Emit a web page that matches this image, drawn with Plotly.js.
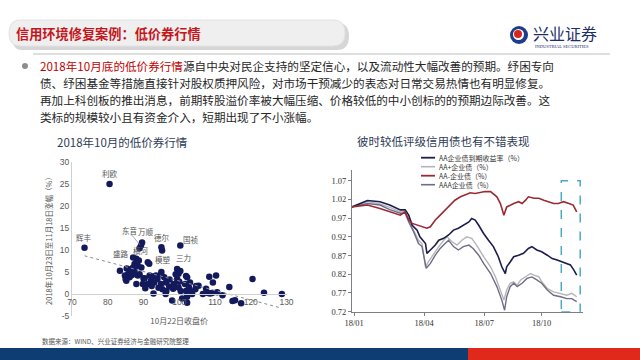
<!DOCTYPE html>
<html><head><meta charset="utf-8">
<script src="https://cdn.plot.ly/plotly-3.0.1.min.js"></script>
<style>html,body{margin:0;padding:0;background:#fff;overflow:hidden}#chart{width:640px;height:360px;}</style>
</head><body><div id="chart"></div>
<script>
// ---------------- DATA ----------------
// Left chart: 10月22日收盘价 vs 2018年10月23日至11月18日涨幅（%）
const closePrice = [80.5,73.5,89.6,89.3,88.9,95.0,95.2,100.3,
 120.5,123.7,128.7,112.1,114.0,114.9,115.6,117.3,
 110.3,108.4,109.4,109.2,108.0,106.6,107.5,104.7,103.0,102.2,102.2,100.8,98.0,101.9,
 83.4,84.8,85.0,85.2,86.1,85.7,86.1,85.3,87.1,88.0,88.7,87.5,88.4,89.4,87.1,86.6,91.2,91.6,88.9,87.5,88.0,89.8,88.4,90.3,91.7,92.1,91.2,92.8,93.5,93.9,93.0,94.9,94.9,95.8,96.3,95.3,96.4,97.2,98.5,99.0,99.4,99.8,99.4,100.4,101.6,101.9,102.7,102.2,103.6,104.5,105.4,110.6,108.6,
 90.5,92.3,95.0,94.2,96.2,97.3,98.3,100.0,99.8,103.2,100.3,90.0,86.8,92.5];
const priceGain = [25.0,10.5,11.7,11.0,10.4,10.6,9.9,11.0,
 3.4,0.3,0.0,-0.3,1.6,-1.6,-1.4,-2.1,
 4.2,3.9,2.6,0.2,0.2,0.0,1.2,1.8,2.6,-0.6,-2.0,-1.0,-1.5,4.1,
 5.3,4.2,3.4,3.0,3.8,4.5,4.9,5.8,8.3,8.0,7.6,6.8,6.4,6.0,6.0,5.7,7.2,6.9,4.5,5.3,2.3,2.3,4.2,3.6,4.2,3.0,2.3,0.1,4.2,3.4,2.6,4.5,2.3,3.8,2.6,1.1,0.7,1.7,2.3,4.5,5.7,4.6,3.4,0.7,2.3,0.7,1.5,3.8,0.0,1.1,1.9,0.4,0.1,
 1.3,1.8,5.0,1.4,0.0,3.3,1.2,2.8,1.5,0.6,5.2,3.5,4.3,4.0];
const bondNames = ['利欧','辉丰','东音','万顺','德尔','国祯','盛路','横河','模塑','三力'];
const scatterXTicks = [70,80,90,100,110,120,130];
const scatterYTicks = [-5,0,5,10,15,20,25,30];

// Right chart: normalised indices
const seriesNames = ['AA企业债到期收益率（%）','AA+企业债（%）','AA-企业债（%）','AAA企业债（%）'];
const datesAA = ['2018-01-02','2018-01-24','2018-02-11','2018-02-25','2018-03-12','2018-03-19','2018-03-24','2018-03-29','2018-04-05','2018-04-09','2018-04-17','2018-04-19','2018-04-24','2018-05-01','2018-05-06','2018-05-13','2018-05-20','2018-05-27','2018-06-03','2018-06-10','2018-06-18','2018-06-22','2018-06-27','2018-07-02','2018-07-09','2018-07-16','2018-07-23','2018-07-30','2018-08-04','2018-08-09','2018-08-11','2018-08-16','2018-08-21','2018-08-28','2018-09-04','2018-09-11','2018-09-16','2018-09-23','2018-09-30','2018-10-08','2018-10-15','2018-10-22','2018-10-29','2018-11-05','2018-11-10','2018-11-15','2018-11-19'];
const valuesAA = [1.000,1.017,1.014,1.005,0.992,0.992,0.978,0.951,0.938,0.920,0.902,0.876,0.885,0.898,0.911,0.916,0.925,0.938,0.943,0.951,0.960,0.969,0.965,0.951,0.929,0.911,0.894,0.867,0.840,0.822,0.840,0.853,0.867,0.871,0.876,0.889,0.894,0.885,0.880,0.871,0.862,0.858,0.853,0.849,0.845,0.831,0.818];
const datesAAplus = ['2018-01-02','2018-01-24','2018-02-11','2018-02-25','2018-03-12','2018-03-19','2018-03-24','2018-03-31','2018-04-07','2018-04-12','2018-04-17','2018-04-21','2018-04-29','2018-05-06','2018-05-13','2018-05-18','2018-05-25','2018-06-01','2018-06-08','2018-06-15','2018-06-22','2018-06-29','2018-07-09','2018-07-19','2018-07-26','2018-08-02','2018-08-07','2018-08-11','2018-08-16','2018-08-21','2018-08-26','2018-08-31','2018-09-07','2018-09-14','2018-09-19','2018-09-26','2018-09-30','2018-10-08','2018-10-17','2018-10-27','2018-11-05','2018-11-12','2018-11-19'];
const valuesAAplus = [1.000,1.014,1.008,0.999,0.987,0.987,0.965,0.938,0.911,0.902,0.840,0.853,0.876,0.894,0.911,0.920,0.907,0.898,0.911,0.920,0.916,0.898,0.867,0.840,0.813,0.778,0.751,0.778,0.796,0.800,0.791,0.805,0.813,0.822,0.818,0.813,0.800,0.782,0.773,0.769,0.764,0.769,0.760];
const datesAAminus = ['2018-01-02','2018-01-24','2018-02-11','2018-02-25','2018-03-12','2018-03-19','2018-03-24','2018-03-29','2018-04-05','2018-04-12','2018-04-19','2018-04-24','2018-05-01','2018-05-08','2018-05-15','2018-05-22','2018-05-29','2018-06-06','2018-06-13','2018-06-20','2018-06-27','2018-07-04','2018-07-11','2018-07-19','2018-07-23','2018-07-28','2018-08-02','2018-08-07','2018-08-11','2018-08-16','2018-08-21','2018-08-28','2018-09-02','2018-09-07','2018-09-11','2018-09-19','2018-09-26','2018-10-03','2018-10-10','2018-10-17','2018-10-24','2018-10-31','2018-11-08','2018-11-14','2018-11-19'];
const valuesAAminus = [1.000,1.005,0.996,0.987,0.978,0.987,0.965,0.956,0.951,0.947,0.943,0.947,0.965,0.978,0.992,1.005,1.018,1.027,1.033,1.038,1.036,1.038,1.041,1.041,1.034,1.027,1.009,0.978,1.000,1.005,1.009,1.014,1.009,1.018,1.027,1.023,1.023,1.018,1.014,1.009,1.009,1.014,1.009,1.005,0.987];
const datesAAA = ['2018-01-02','2018-01-24','2018-02-11','2018-02-25','2018-03-12','2018-03-19','2018-03-24','2018-03-31','2018-04-07','2018-04-12','2018-04-18','2018-04-24','2018-05-01','2018-05-08','2018-05-15','2018-05-20','2018-05-27','2018-06-03','2018-06-10','2018-06-18','2018-06-24','2018-07-02','2018-07-09','2018-07-19','2018-07-28','2018-08-04','2018-08-08','2018-08-11','2018-08-16','2018-08-21','2018-08-26','2018-09-02','2018-09-09','2018-09-16','2018-09-23','2018-09-30','2018-10-08','2018-10-17','2018-10-27','2018-11-05','2018-11-12','2018-11-19'];
const valuesAAA = [1.000,1.009,1.005,0.993,0.983,0.983,0.960,0.934,0.902,0.894,0.836,0.849,0.871,0.889,0.902,0.911,0.894,0.885,0.894,0.898,0.889,0.871,0.849,0.822,0.787,0.751,0.724,0.760,0.787,0.796,0.787,0.796,0.809,0.813,0.805,0.796,0.778,0.764,0.760,0.755,0.755,0.747];
const lineYTicks = [0.72,0.77,0.82,0.87,0.92,0.97,1.02,1.07];
const lineXTickDates = ['2018-01-05','2018-04-15','2018-07-10','2018-09-30'];
const lineXTickText = ['18/01','18/04','18/07','18/10'];

// ---------------- HELPERS ----------------
const W = 640, H = 360;
const px = x => x / W;
const py = y => 1 - y / H;

// Linear trendline computed from the scatter data
const n = closePrice.length;
const mx = closePrice.reduce((a,b)=>a+b,0)/n, my = priceGain.reduce((a,b)=>a+b,0)/n;
let sxy=0, sxx=0;
for (let i=0;i<n;i++){ sxy += (closePrice[i]-mx)*(priceGain[i]-my); sxx += (closePrice[i]-mx)**2; }
const slope = sxy/sxx, intercept = my - slope*mx;
const xmin = Math.min(...closePrice), xmax = Math.max(...closePrice);

const CJK = '"Noto Sans CJK SC", sans-serif';
const SERIF = '"Liberation Serif", "DejaVu Serif", serif';
const SANS = '"Liberation Sans", Arial, sans-serif';

const sxDom = [px(72), px(286.5)];
const syDom = [py(316), py(162)];
const syRange = [-5, 30];
const xAxisPos = syDom[0] + (0 - syRange[0]) / (syRange[1] - syRange[0]) * (syDom[1] - syDom[0]);

const traces = [
  {type:'scatter', mode:'markers', x: closePrice, y: priceGain, xaxis:'x', yaxis:'y',
   marker:{color:'#131a5c', size:6.5}, showlegend:false, hoverinfo:'x+y'},
  {type:'scatter', mode:'lines', x:[xmin, xmax], y:[intercept+slope*xmin, intercept+slope*xmax],
   xaxis:'x', yaxis:'y', line:{color:'#8a8a9a', width:1, dash:'dot'}, showlegend:false, hoverinfo:'skip'},
];
const lineColors = ['#1b1d4d','#b5b5b8','#9a2b33','#6e6c88'];
const lineWidths = [1.6,1.4,1.6,1.4];
const lineDates = [datesAA, datesAAplus, datesAAminus, datesAAA];
const lineVals = [valuesAA, valuesAAplus, valuesAAminus, valuesAAA];
[1,3,0,2].forEach(i => traces.push({type:'scatter', mode:'lines', name: seriesNames[i],
  x: lineDates[i], y: lineVals[i], xaxis:'x2', yaxis:'y2',
  line:{color: lineColors[i], width: lineWidths[i]}, showlegend:false}));

const shapes = [];
const annotations = [];

// Title bar
shapes.push({type:'path', xref:'paper', yref:'paper', layer:'below',
  path:`M ${px(22)} ${py(23)} L ${px(337)} ${py(23)} Q ${px(349)} ${py(23)} ${px(349)} ${py(36)} Q ${px(349)} ${py(50)} ${px(337)} ${py(50)} L ${px(22)} ${py(50)} Q ${px(12)} ${py(50)} ${px(12)} ${py(36)} Q ${px(12)} ${py(23)} ${px(22)} ${py(23)} Z`,
  fillcolor:'#d6d6d6', line:{width:0}});
shapes.push({type:'path', xref:'paper', yref:'paper', layer:'below',
  path:`M ${px(20)} ${py(20)} L ${px(333)} ${py(20)} Q ${px(345)} ${py(20)} ${px(345)} ${py(33)} Q ${px(345)} ${py(46)} ${px(333)} ${py(46)} L ${px(20)} ${py(46)} Q ${px(9)} ${py(46)} ${px(9)} ${py(33)} Q ${px(9)} ${py(20)} ${px(20)} ${py(20)} Z`,
  fillcolor:'#efefef', line:{color:'#e2e2e2', width:1}});
annotations.push({xref:'paper', yref:'paper', x:px(14), y:py(33), xanchor:'left', yanchor:'middle', showarrow:false,
  text:'<b>信用环境修复案例：低价券行情</b>', font:{family:CJK, size:13.2, color:'#c4161c'}});

// Logo
shapes.push({type:'circle', xref:'paper', yref:'paper', x0:px(510), x1:px(528), y0:py(44), y1:py(26), fillcolor:'#1d3c8c', line:{width:0}});
shapes.push({type:'circle', xref:'paper', yref:'paper', x0:px(513), x1:px(524), y0:py(40), y1:py(29), fillcolor:'#ffffff', line:{width:0}});
shapes.push({type:'circle', xref:'paper', yref:'paper', x0:px(514), x1:px(522), y0:py(38), y1:py(30), fillcolor:'#d9261c', line:{width:0}});
annotations.push({xref:'paper', yref:'paper', x:px(531), y:py(33), xanchor:'left', yanchor:'middle', showarrow:false,
  text:'兴业证券', font:{family:CJK, size:16, color:'#1b2d6b'}});
annotations.push({xref:'paper', yref:'paper', x:px(533), y:py(46), xanchor:'left', yanchor:'middle', showarrow:false,
  text:'INDUSTRIAL SECURITIES', font:{family:SERIF, size:4.5, color:'#1b2d6b'}});

// Separator line
shapes.push({type:'line', xref:'paper', yref:'paper', x0:px(33), x1:px(610), y0:py(54), y1:py(54), line:{color:'#bfbfbf', width:1}});

// Bullet + body text
shapes.push({type:'circle', xref:'paper', yref:'paper', x0:px(22), x1:px(28), y0:py(69), y1:py(63), fillcolor:'#8c8c8c', line:{width:0}});
const bodyLines = [
  '<span style="color:#c00000">2018年10月底的低价券行情</span>源自中央对民企支持的坚定信心，以及流动性大幅改善的预期。纾困专向',
  '债、纾困基金等措施直接针对股权质押风险，对市场干预减少的表态对日常交易热情也有明显修复。',
  '再加上科创板的推出消息，前期转股溢价率被大幅压缩、价格较低的中小创标的的预期边际改善。这',
  '类标的规模较小且有资金介入，短期出现了不小涨幅。'
];
const bodyY = [66, 83, 100, 117];
bodyLines.forEach((t,i) => annotations.push({xref:'paper', yref:'paper', x:px(38), y:py(bodyY[i]), xanchor:'left', yanchor:'middle',
  showarrow:false, text:t, font:{family:CJK, size:11.6, color:'#262626'}}));

// Chart titles
annotations.push({xref:'paper', yref:'paper', x:px(55), y:py(142), xanchor:'left', yanchor:'middle', showarrow:false,
  text:'2018年10月的低价券行情', font:{family:CJK, size:11.5, color:'#2e3b55'}});
annotations.push({xref:'paper', yref:'paper', x:px(355), y:py(141), xanchor:'left', yanchor:'middle', showarrow:false,
  text:'彼时较低评级信用债也有不错表现', font:{family:CJK, size:11.5, color:'#2e3b55'}});

// Scatter point labels
const labelPos = [[80.5,27.4],[73.3,12.9],[86.3,14.4],[90.6,14.3],[95.2,12.8],[103.3,12.4],[83.6,9.1],[89.4,9.8],[95.4,7.9],[101.3,8.3]];
bondNames.forEach((nm,i) => annotations.push({xref:'x', yref:'y', x:labelPos[i][0], y:labelPos[i][1], showarrow:false,
  text:nm, font:{family:CJK, size:7.5, color:'#555555'}}));
shapes.push({type:'line', xref:'x', yref:'y', x0:86.6, y0:13.5, x1:89.0, y1:11.2, line:{color:'#999999', width:0.8}});

// Right chart legend
const legRowY = [157.7, 166.7, 175.7, 184.7];
seriesNames.forEach((nm,i) => {
  shapes.push({type:'line', xref:'paper', yref:'paper', x0:px(421), x1:px(435), y0:py(legRowY[i]), y1:py(legRowY[i]),
    line:{color: lineColors[i], width: lineWidths[i]+0.2}});
  annotations.push({xref:'paper', yref:'paper', x:px(437), y:py(legRowY[i]), xanchor:'left', yanchor:'middle', showarrow:false,
    text:nm, font:{family:CJK, size:7, color:'#333333'}});
});

// Highlight box
shapes.push({type:'rect', xref:'x2', yref:'y2', x0:'2018-10-28', x1:'2018-11-24', y0:0.72, y1:1.07,
  line:{color:'#4aaac8', width:1.5, dash:'dash'}, fillcolor:'rgba(0,0,0,0)'});

// Source & footer
annotations.push({xref:'paper', yref:'paper', x:px(40), y:py(341), xanchor:'left', yanchor:'middle', showarrow:false,
  text:'数据来源：WIND、兴业证券经济与金融研究院整理', font:{family:CJK, size:6.5, color:'#555555'}});
shapes.push({type:'rect', xref:'paper', yref:'paper', x0:0, x1:px(468), y0:0, y1:py(348), fillcolor:'#0d3d72', line:{width:0}});
shapes.push({type:'rect', xref:'paper', yref:'paper', x0:px(468), x1:1, y0:0, y1:py(348), fillcolor:'#e0281b', line:{width:0}});

const layout = {
  width: W, height: H, margin:{l:0, r:0, t:0, b:0}, paper_bgcolor:'#ffffff', plot_bgcolor:'rgba(0,0,0,0)',
  showlegend:false,
  xaxis:{domain:sxDom, range:[70,130], anchor:'free', position:xAxisPos, tickvals:scatterXTicks, ticktext:scatterXTicks.map(String),
    showgrid:false, zeroline:false, showline:true, linecolor:'#d0d0d0', linewidth:1, ticks:'',
    tickfont:{family:SANS, size:8.5, color:'#595959'},
    title:{text:'10月22日收盘价', font:{family:CJK, size:8, color:'#595959'}, standoff:12}},
  yaxis:{domain:syDom, range:syRange, tickvals:scatterYTicks, ticktext:scatterYTicks.map(String),
    showgrid:false, zeroline:false, showline:true, linecolor:'#d0d0d0', linewidth:1, ticks:'',
    tickfont:{family:SANS, size:8.5, color:'#595959'},
    title:{text:'2018年10月23日至11月18日涨幅（%）', font:{family:CJK, size:7.5, color:'#595959'}, standoff:6}},
  xaxis2:{domain:[px(352), px(583)], type:'date', range:['2018-01-02','2018-11-28'], anchor:'y2',
    tickvals:lineXTickDates, ticktext:lineXTickText, showgrid:false, zeroline:false, showline:true,
    linecolor:'#7f7f7f', linewidth:1, ticks:'outside', ticklen:3, tickcolor:'#7f7f7f',
    tickfont:{family:SERIF, size:8.5, color:'#333333'}},
  yaxis2:{domain:[py(311.7), py(169.5)], range:[0.72,1.10], anchor:'x2',
    tickvals:lineYTicks, ticktext:lineYTicks.map(v=>v.toFixed(2)), showgrid:false, zeroline:false, showline:true,
    linecolor:'#7f7f7f', linewidth:1, ticks:'outside', ticklen:3, tickcolor:'#7f7f7f',
    tickfont:{family:SERIF, size:8.5, color:'#333333'}},
  shapes, annotations
};
Plotly.newPlot('chart', traces, layout, {staticPlot:true, displayModeBar:false});
</script></body></html>
